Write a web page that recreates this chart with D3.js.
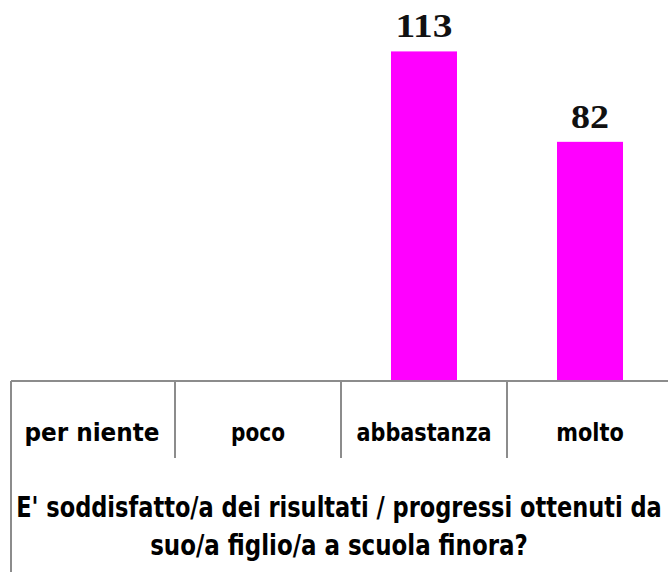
<!DOCTYPE html>
<html>
<head>
<meta charset="utf-8">
<script src="https://cdn.jsdelivr.net/npm/d3@7"></script>
<style>
  html, body { margin: 0; padding: 0; background: #fff; }
  svg { display: block; }
  .cond { font-family: "Liberation Sans Narrow", "DejaVu Sans Condensed", "Liberation Sans", sans-serif; font-weight: bold; }
</style>
</head>
<body>
<svg id="chart" width="668" height="572"></svg>
<script>
const categories = ["per niente", "poco", "abbastanza", "molto"];
const values = [0, 0, 113, 82];
const titleLines = ["E' soddisfatto/a dei risultati / progressi ottenuti da", "suo/a figlio/a a scuola finora?"];

const W = 668, H = 572;
const svg = d3.select("#chart");

const x = d3.scaleBand().domain(categories).range([9, 673]).paddingInner(0).paddingOuter(0);
const y = d3.scaleLinear().domain([0, 120]).range([381, 31]);
const barW = 66;

const data = categories.map((c, i) => ({c, v: values[i]})).filter(d => d.v > 0);

// bars
svg.append("g").selectAll("rect")
  .data(data)
  .join("rect")
  .attr("x", d => x(d.c) + x.bandwidth() / 2 - barW / 2)
  .attr("width", barW)
  .attr("y", d => y(d.v))
  .attr("height", d => y(0) - y(d.v))
  .attr("fill", "#ff00ff");

// value labels
svg.append("g").selectAll("text")
  .data(data)
  .join("text")
  .attr("x", d => x(d.c) + x.bandwidth() / 2)
  .attr("y", d => y(d.v) - 14)
  .attr("text-anchor", "middle")
  .attr("font-family", "'Liberation Serif', 'DejaVu Serif', serif")
  .attr("font-weight", "bold")
  .attr("font-size", 33)
  .attr("fill", "#111")
  .attr("textLength", d => String(d.v).length * 19)
  .attr("lengthAdjust", "spacingAndGlyphs")
  .text(d => d.v);

// table frame
const lineColor = "#8c8c8c";
const frame = svg.append("g").attr("stroke", lineColor).attr("stroke-width", 2).attr("fill", "none");
frame.append("line").attr("x1", 11).attr("x2", W).attr("y1", y(0)).attr("y2", y(0));
frame.append("line").attr("x1", 11).attr("x2", 11).attr("y1", y(0)).attr("y2", H);
frame.selectAll("line.div")
  .data(categories.slice(1))
  .join("line")
  .attr("class", "div")
  .attr("x1", d => x(d)).attr("x2", d => x(d))
  .attr("y1", y(0)).attr("y2", 458);

// category labels via axis
const axis = d3.axisBottom(x).tickSize(0).tickPadding(0);
const ag = svg.append("g").attr("transform", `translate(0, ${y(0)})`).call(axis);
ag.select(".domain").remove();
ag.selectAll(".tick text")
  .attr("class", "cond")
  .attr("dy", null)
  .attr("y", 60)
  .attr("font-size", 25)
  .attr("fill", "#000")
  .attr("textLength", d => d.length * 13.5)
  .attr("lengthAdjust", "spacingAndGlyphs");

// title (horizontally condensed via transform to fit the frame)
const targetW = [646, 378];
const tg = svg.append("g").selectAll("g")
  .data(titleLines)
  .join("g");
tg.append("text")
  .attr("class", "cond")
  .attr("text-anchor", "middle")
  .attr("font-size", 28)
  .attr("fill", "#000")
  .text(d => d);
tg.attr("transform", function(d, i) {
  const w = this.querySelector("text").getComputedTextLength();
  const sx = targetW[i] / w;
  return `translate(339, ${517 + i * 38}) scale(${sx}, 1)`;
});
</script>
</body>
</html>
